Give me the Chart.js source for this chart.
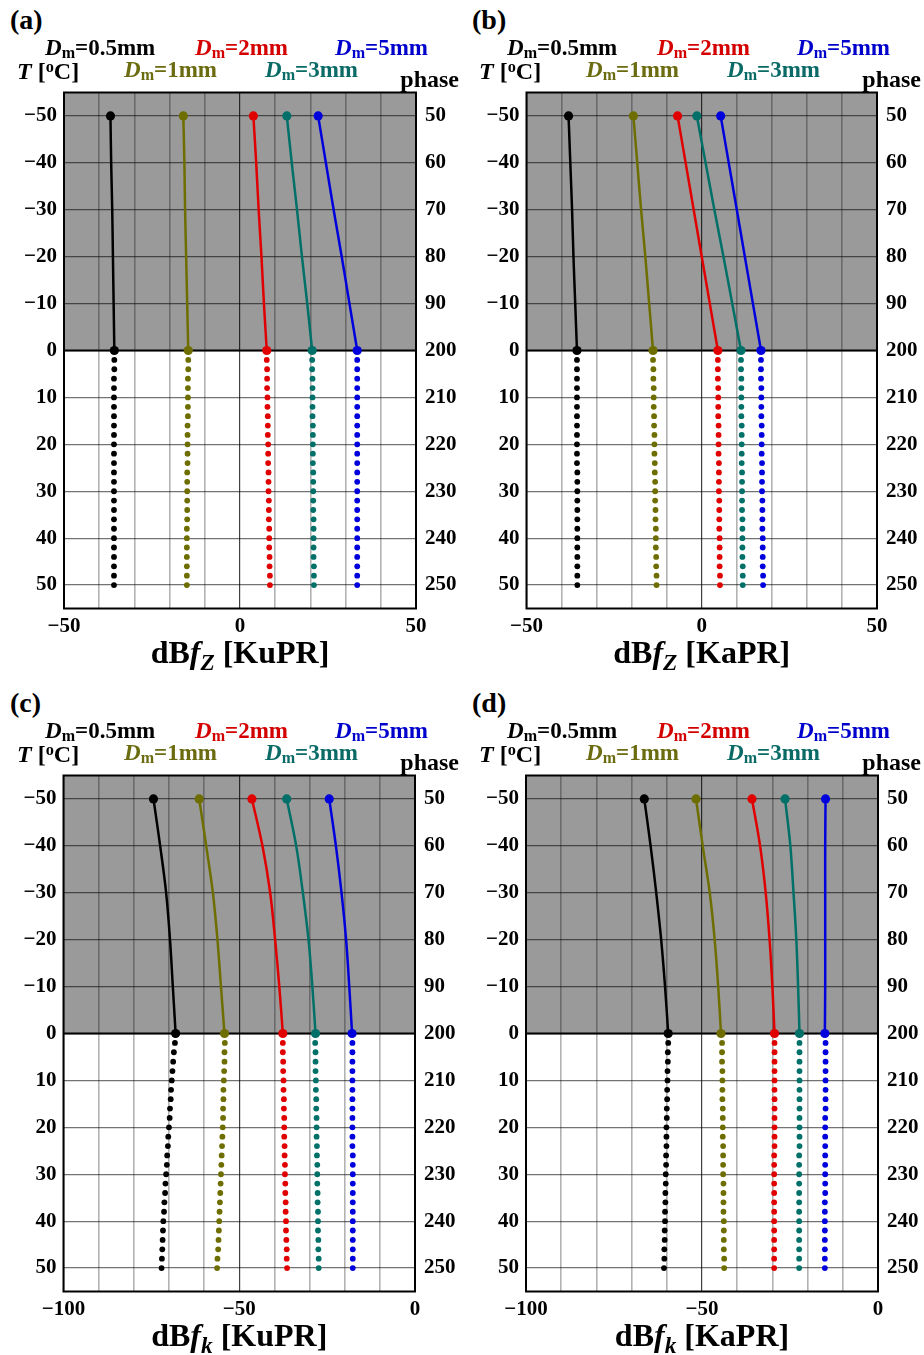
<!DOCTYPE html>
<html>
<head>
<meta charset="utf-8">
<script src="https://cdn.jsdelivr.net/npm/chart.js@4.4.0/dist/chart.umd.min.js"></script>
<style>
  body { margin: 0; background: #fff; }
  #page { position: relative; width: 924px; height: 1355px; overflow: hidden;
          font-family: "Liberation Serif", "Times New Roman", serif; font-weight: bold; color: #000; }
  .panel { position: absolute; width: 462px; height: 683px; }
  .panel canvas { position: absolute; left: 0; top: 80px; }
  .txt { position: absolute; white-space: nowrap; line-height: 1; }
  .txt i { font-style: italic; }
  .txt sub { font-size: 0.7em; vertical-align: -0.17em; line-height: 0; }
  .txt sup { font-size: 0.68em; vertical-align: 0.4em; line-height: 0; }
  .ttl sub { font-size: 0.73em; vertical-align: -0.29em; font-style: italic; }
</style>
</head>
<body>
<div id="page"></div>
<script>
// temperature axis (left) and phase labels (right)
const tempTicks = [-50, -40, -30, -20, -10, 0, 10, 20, 30, 40, 50];
const phaseLabels = ['50', '60', '70', '80', '90', '200', '210', '220', '230', '240', '250'];

// T of the solid (ice) part and of the dotted (melt) part
const solidT = [-50, -40, -30, -20, -10, 0];
const dotT = [0, 2, 4, 6, 8, 10, 12, 14, 16, 18, 20, 22, 24, 26, 28, 30, 32, 34, 36, 38, 40, 42, 44, 46, 48, 50];

const dmSizes = ['0.5', '1', '2', '3', '5'];

const xGridZ = [-50, -40, -30, -20, -10, 0, 10, 20, 30, 40, 50];
const xLabelsZ = [-50, 0, 50];
const xGridK = [-100, -90, -80, -70, -60, -50, -40, -30, -20, -10, 0];
const xLabelsK = [-100, -50, 0];

// (a) dBfZ KuPR, one row per Dm
const aSolid = [
  [-36.8, -36.6, -36.3, -36.1, -35.9, -35.7],
  [-16.1, -15.8, -15.6, -15.3, -15.0, -14.7],
  [3.8, 4.6, 5.3, 6.1, 6.8, 7.6],
  [13.3, 14.7, 16.2, 17.6, 19.1, 20.5],
  [22.2, 24.4, 26.6, 28.9, 31.1, 33.3]
];
const aDots = [
  [-35.7, -35.7, -35.7, -35.8, -35.8, -35.8, -35.8, -35.8, -35.8, -35.8, -35.8, -35.8, -35.8, -35.8, -35.8, -35.8, -35.8, -35.8, -35.8, -35.8, -35.8, -35.8, -35.8, -35.8, -35.8, -35.8],
  [-14.7, -14.7, -14.7, -14.8, -14.8, -14.8, -14.8, -14.8, -14.9, -14.9, -14.9, -14.9, -14.9, -15.0, -15.0, -15.0, -15.0, -15.0, -15.0, -15.1, -15.1, -15.1, -15.1, -15.1, -15.1, -15.1],
  [7.6, 7.6, 7.7, 7.7, 7.7, 7.8, 7.8, 7.9, 7.9, 7.9, 8.0, 8.0, 8.0, 8.1, 8.1, 8.1, 8.2, 8.2, 8.2, 8.3, 8.3, 8.3, 8.4, 8.4, 8.5, 8.5],
  [20.5, 20.5, 20.5, 20.6, 20.6, 20.6, 20.6, 20.6, 20.7, 20.7, 20.7, 20.7, 20.7, 20.8, 20.8, 20.8, 20.8, 20.8, 20.9, 20.9, 20.9, 20.9, 20.9, 21.0, 21.0, 21.0],
  [33.3, 33.3, 33.3, 33.3, 33.3, 33.3, 33.3, 33.3, 33.3, 33.3, 33.3, 33.3, 33.3, 33.3, 33.3, 33.3, 33.3, 33.3, 33.3, 33.3, 33.3, 33.3, 33.3, 33.3, 33.3, 33.3]
];

// (b) dBfZ KaPR
const bSolid = [
  [-38.0, -37.5, -37.0, -36.6, -36.1, -35.6],
  [-19.5, -18.4, -17.3, -16.1, -15.0, -13.9],
  [-6.9, -4.6, -2.3, 0.0, 2.3, 4.6],
  [-1.4, 1.1, 3.6, 6.2, 8.7, 11.2],
  [5.4, 7.7, 10.0, 12.3, 14.6, 16.9]
];
const bDots = [
  [-35.6, -35.6, -35.6, -35.6, -35.6, -35.6, -35.6, -35.6, -35.6, -35.6, -35.6, -35.6, -35.6, -35.5, -35.5, -35.5, -35.5, -35.5, -35.5, -35.5, -35.5, -35.5, -35.5, -35.5, -35.5, -35.5],
  [-13.9, -13.9, -13.8, -13.8, -13.7, -13.7, -13.7, -13.6, -13.6, -13.5, -13.5, -13.5, -13.4, -13.4, -13.3, -13.3, -13.3, -13.2, -13.2, -13.1, -13.1, -13.1, -13.0, -13.0, -12.9, -12.9],
  [4.6, 4.6, 4.6, 4.6, 4.7, 4.7, 4.7, 4.7, 4.8, 4.8, 4.8, 4.8, 4.9, 4.9, 4.9, 4.9, 5.0, 5.0, 5.0, 5.0, 5.1, 5.1, 5.1, 5.1, 5.2, 5.2],
  [11.2, 11.2, 11.2, 11.3, 11.3, 11.3, 11.3, 11.3, 11.4, 11.4, 11.4, 11.4, 11.4, 11.5, 11.5, 11.5, 11.5, 11.5, 11.6, 11.6, 11.6, 11.6, 11.6, 11.7, 11.7, 11.7],
  [16.9, 16.9, 16.9, 16.9, 17.0, 17.0, 17.0, 17.0, 17.1, 17.1, 17.1, 17.1, 17.2, 17.2, 17.2, 17.2, 17.3, 17.3, 17.3, 17.3, 17.4, 17.4, 17.4, 17.4, 17.5, 17.5]
];

// (c) dBfk KuPR
const cSolid = [
  [-74.4, -72.5, -70.8, -69.7, -68.9, -68.1],
  [-61.4, -59.4, -57.5, -56.2, -55.2, -54.2],
  [-46.4, -43.4, -41.2, -39.8, -38.6, -37.6],
  [-36.5, -33.8, -31.9, -30.3, -29.2, -28.3],
  [-24.4, -22.5, -20.9, -19.6, -18.7, -17.9]
];
const cDots = [
  [-68.1, -68.3, -68.6, -68.8, -69.0, -69.2, -69.4, -69.5, -69.7, -69.8, -70.0, -70.2, -70.3, -70.5, -70.6, -70.8, -71.0, -71.1, -71.3, -71.4, -71.6, -71.7, -71.8, -71.9, -72.0, -72.1],
  [-54.0, -54.1, -54.2, -54.2, -54.3, -54.4, -54.5, -54.5, -54.6, -54.6, -54.7, -54.8, -54.9, -55.0, -55.1, -55.2, -55.3, -55.4, -55.5, -55.6, -55.7, -55.8, -55.9, -56.0, -56.2, -56.3],
  [-37.7, -37.6, -37.6, -37.5, -37.5, -37.4, -37.4, -37.3, -37.3, -37.2, -37.2, -37.2, -37.1, -37.1, -37.0, -37.0, -36.9, -36.9, -36.8, -36.8, -36.7, -36.7, -36.6, -36.5, -36.5, -36.4],
  [-28.4, -28.4, -28.3, -28.3, -28.3, -28.2, -28.2, -28.1, -28.1, -28.0, -28.0, -28.0, -27.9, -27.9, -27.8, -27.8, -27.8, -27.7, -27.7, -27.6, -27.6, -27.6, -27.5, -27.5, -27.4, -27.4],
  [-17.8, -17.8, -17.8, -17.8, -17.8, -17.8, -17.8, -17.8, -17.8, -17.8, -17.8, -17.8, -17.8, -17.7, -17.7, -17.7, -17.7, -17.7, -17.7, -17.7, -17.7, -17.7, -17.7, -17.7, -17.7, -17.7]
];

// (d) dBfk KaPR
const dSolid = [
  [-66.4, -64.6, -63.0, -61.6, -60.5, -59.6],
  [-51.7, -49.8, -47.8, -46.4, -45.4, -44.6],
  [-35.8, -33.5, -31.9, -30.8, -30.0, -29.4],
  [-26.4, -24.9, -24.0, -23.2, -22.7, -22.3],
  [-14.9, -15.0, -15.0, -15.0, -15.0, -15.1]
];
const dDots = [
  [-59.6, -59.6, -59.7, -59.7, -59.8, -59.8, -59.9, -59.9, -60.0, -60.0, -60.1, -60.1, -60.1, -60.2, -60.2, -60.3, -60.3, -60.4, -60.4, -60.5, -60.5, -60.6, -60.6, -60.7, -60.7, -60.8],
  [-44.3, -44.3, -44.3, -44.3, -44.2, -44.2, -44.2, -44.2, -44.1, -44.1, -44.1, -44.1, -44.0, -44.0, -44.0, -44.0, -43.9, -43.9, -43.9, -43.9, -43.8, -43.8, -43.8, -43.8, -43.7, -43.7],
  [-29.4, -29.4, -29.4, -29.4, -29.4, -29.4, -29.4, -29.4, -29.4, -29.4, -29.4, -29.4, -29.4, -29.5, -29.5, -29.5, -29.5, -29.5, -29.5, -29.5, -29.5, -29.5, -29.5, -29.5, -29.5, -29.5],
  [-22.3, -22.3, -22.3, -22.3, -22.3, -22.3, -22.3, -22.3, -22.3, -22.3, -22.3, -22.3, -22.3, -22.4, -22.4, -22.4, -22.4, -22.4, -22.4, -22.4, -22.4, -22.4, -22.4, -22.4, -22.4, -22.4],
  [-14.9, -14.9, -14.9, -14.9, -14.9, -14.9, -14.9, -14.9, -14.9, -15.0, -15.0, -15.0, -15.0, -15.0, -15.0, -15.0, -15.0, -15.0, -15.1, -15.1, -15.1, -15.1, -15.1, -15.1, -15.1, -15.1]
];

const lineColors = ['#000000', '#6e6e00', '#e00000', '#007068', '#0000dd'];
const textColors = ['#000000', '#6b6b10', '#d40000', '#0a6b66', '#0000cc'];
// where each Dm label sits (x, baseline), same order as dmSizes
const legendSpots = [[45, 55], [124, 77], [195, 55], [265, 77], [335, 55]];

const panels = [
  { id: 'a', ox: 0,   oy: 0,   axL: 64,   axR: 46, grid: xGridZ, labels: xLabelsZ, mid: 0,   sub: 'Z', band: 'KuPR', solid: aSolid, dots: aDots },
  { id: 'b', ox: 462, oy: 0,   axL: 64.5, axR: 47, grid: xGridZ, labels: xLabelsZ, mid: 0,   sub: 'Z', band: 'KaPR', solid: bSolid, dots: bDots },
  { id: 'c', ox: 0,   oy: 683, axL: 63.5, axR: 47, grid: xGridK, labels: xLabelsK, mid: -50, sub: 'k', band: 'KuPR', solid: cSolid, dots: cDots },
  { id: 'd', ox: 462, oy: 683, axL: 64,   axR: 46, grid: xGridK, labels: xLabelsK, mid: -50, sub: 'k', band: 'KaPR', solid: dSolid, dots: dDots }
];

const tickFont = { family: "'Liberation Serif', 'Times New Roman', serif", weight: 'bold', size: 21 };

function fmt(v) {
  return v < 0 ? '\u2212' + Math.abs(v) : String(v);
}

// text placed by its baseline (line-height 1 in Liberation Serif)
function put(parent, html, x, base, size, align, color, cls) {
  const el = document.createElement('div');
  el.className = 'txt' + (cls ? ' ' + cls : '');
  el.innerHTML = html;
  el.style.fontSize = size + 'px';
  el.style.top = (base - 0.8375 * size) + 'px';
  if (color) el.style.color = color;
  if (align === 'right') {
    el.style.right = (462 - x) + 'px';
  } else if (align === 'center') {
    el.style.left = x + 'px';
    el.style.transform = 'translateX(-50%)';
  } else {
    el.style.left = x + 'px';
  }
  parent.appendChild(el);
}

const panelDecor = {
  id: 'panelDecor',
  beforeDraw(chart) {
    const { ctx, chartArea: a, scales } = chart;
    const y0 = scales.y.getPixelForValue(0);
    ctx.save();
    ctx.fillStyle = '#9a9a9a';
    ctx.fillRect(a.left, a.top, a.right - a.left, y0 - a.top);
    ctx.restore();
  },
  beforeDatasetsDraw(chart) {
    const { ctx, chartArea: a, scales } = chart;
    const y0 = scales.y.getPixelForValue(0);
    ctx.save();
    ctx.strokeStyle = '#000';
    ctx.lineWidth = 2;
    ctx.beginPath();
    ctx.moveTo(a.left, y0);
    ctx.lineTo(a.right, y0);
    ctx.stroke();
    ctx.strokeRect(a.left, a.top, a.right - a.left, a.bottom - a.top);
    ctx.restore();
  }
};

const page = document.getElementById('page');

panels.forEach(p => {
  const div = document.createElement('div');
  div.className = 'panel';
  div.style.left = p.ox + 'px';
  div.style.top = p.oy + 'px';
  page.appendChild(div);

  const canvas = document.createElement('canvas');
  canvas.width = 462;
  canvas.height = 570;
  div.appendChild(canvas);

  // texts
  put(div, '(' + p.id + ')', 10, 29, 28);
  dmSizes.forEach((dm, i) => {
    put(div, '<i>D</i><sub>m</sub>=' + dm + 'mm', legendSpots[i][0], legendSpots[i][1], 23, 'left', textColors[i]);
  });
  put(div, '<i>T</i> [<sup>o</sup>C]', 17, 79, 24);
  put(div, 'phase', 459, 87, 24, 'right');
  const plotMid = (p.axL + 462 - p.axR) / 2;
  put(div, 'dB<i>f</i><sub>' + p.sub + '</sub> [' + p.band + ']', plotMid, 663, 32, 'center', null, 'ttl');

  const datasets = [];
  lineColors.forEach((c, i) => {
    datasets.push({
      data: solidT.map((t, j) => ({ x: p.solid[i][j], y: t })),
      showLine: true,
      borderColor: c,
      backgroundColor: c,
      borderWidth: 2.5,
      tension: 0.35,
      pointRadius: solidT.map((t, j) => (j === 0 || j === solidT.length - 1) ? 4.6 : 0),
      pointBorderWidth: 0
    });
    datasets.push({
      data: dotT.map((t, j) => ({ x: p.dots[i][j], y: t })),
      showLine: false,
      borderColor: c,
      backgroundColor: c,
      pointRadius: 2.9,
      pointBorderWidth: 0
    });
  });

  new Chart(canvas.getContext('2d'), {
    type: 'scatter',
    data: { datasets: datasets },
    options: {
      responsive: false,
      animation: false,
      events: [],
      layout: { padding: { top: 12.5, left: 0, right: 0, bottom: 0 } },
      plugins: { legend: { display: false }, tooltip: { enabled: false } },
      scales: {
        x: {
          type: 'linear',
          min: p.grid[0],
          max: p.grid[p.grid.length - 1],
          afterBuildTicks: s => { s.ticks = p.grid.map(v => ({ value: v })); },
          afterFit: s => { s.height = 41.5; s.paddingLeft = 0; s.paddingRight = 0; },
          grid: {
            color: ctx => (ctx.tick && ctx.tick.value === p.mid) ? 'rgba(0,0,0,0.75)' : 'rgba(0,0,0,0.3)',
            lineWidth: ctx => (ctx.tick && ctx.tick.value === p.mid) ? 1.2 : 1.6,
            drawTicks: false
          },
          border: { display: false },
          ticks: {
            autoSkip: false,
            maxRotation: 0,
            padding: 5,
            color: '#000',
            font: tickFont,
            callback: v => p.labels.includes(v) ? fmt(v) : ''
          }
        },
        y: {
          type: 'linear',
          min: -55,
          max: 55,
          reverse: true,
          afterBuildTicks: s => { s.ticks = tempTicks.map(v => ({ value: v })); },
          afterFit: s => { s.width = p.axL; s.paddingTop = 0; s.paddingBottom = 0; },
          grid: { color: 'rgba(0,0,0,0.55)', lineWidth: 1.2, drawTicks: false },
          border: { display: false },
          ticks: { padding: 7, color: '#000', font: tickFont, callback: v => fmt(v) }
        },
        y2: {
          type: 'linear',
          position: 'right',
          min: -55,
          max: 55,
          reverse: true,
          afterBuildTicks: s => { s.ticks = tempTicks.map(v => ({ value: v })); },
          afterFit: s => { s.width = p.axR; s.paddingTop = 0; s.paddingBottom = 0; },
          grid: { display: false, drawTicks: false },
          border: { display: false },
          ticks: { padding: 9, color: '#000', font: tickFont, callback: v => phaseLabels[tempTicks.indexOf(v)] }
        }
      }
    },
    plugins: [panelDecor]
  });
});
</script>
</body>
</html>
